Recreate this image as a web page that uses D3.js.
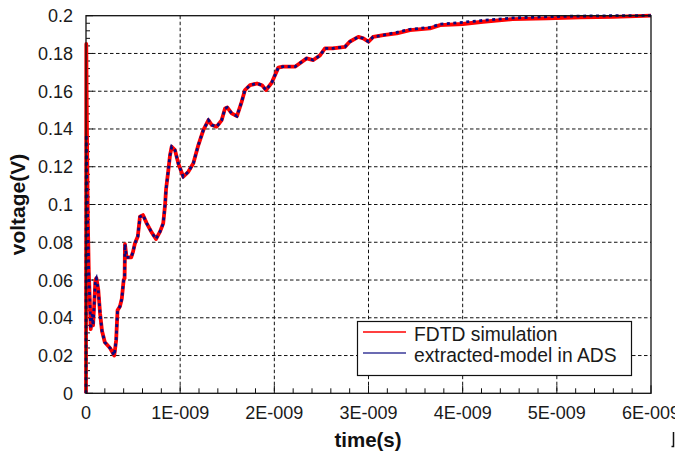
<!DOCTYPE html>
<html>
<head>
<meta charset="utf-8">
<script src="https://cdn.jsdelivr.net/npm/d3@7"></script>
<style>
  body { margin: 0; background: #fff; }
  svg { display: block; font-family: "Liberation Sans", Arial, sans-serif; }
</style>
</head>
<body>
<svg id="chart" width="675" height="457"></svg>
<script>
// time axis in ns
const timeNs = [0, 0.003, 0.01, 0.02, 0.03, 0.04, 0.05, 0.065, 0.075, 0.085, 0.1, 0.11, 0.13, 0.15, 0.17,
    0.2, 0.255, 0.3, 0.32, 0.335, 0.36, 0.38, 0.4, 0.41, 0.414, 0.43, 0.48, 0.5, 0.52, 0.55, 0.573,
    0.605, 0.645, 0.7, 0.743, 0.786, 0.82, 0.84, 0.85, 0.874, 0.892, 0.91, 0.945, 0.98, 1.033, 1.086,
    1.14, 1.193, 1.246, 1.3, 1.335, 1.388, 1.441, 1.476, 1.5, 1.547, 1.603, 1.653, 1.688, 1.742, 1.816,
    1.869, 1.911, 1.972, 2.042, 2.09, 2.22, 2.343, 2.414, 2.485, 2.538, 2.62, 2.75, 2.8, 2.892, 2.945,
    3.0, 3.05, 3.157, 3.3, 3.44, 3.653, 3.76, 4.0, 4.216, 4.53, 4.9, 5.25, 5.6, 6.0];

const fdtdV = [0, 0.185, 0.14, 0.09, 0.064, 0.05, 0.034, 0.042, 0.036, 0.045, 0.06, 0.061, 0.055, 0.042,
    0.033, 0.027, 0.024, 0.020, 0.028, 0.044, 0.046, 0.05, 0.06, 0.061, 0.079, 0.072, 0.072, 0.075,
    0.0795, 0.083, 0.0935, 0.0944, 0.090, 0.085, 0.0817, 0.0856, 0.090, 0.100, 0.108, 0.118, 0.126,
    0.1306, 0.1288, 0.1218, 0.1147, 0.1173, 0.1218, 0.1315, 0.1394, 0.1447, 0.1421, 0.1412, 0.1447,
    0.1509, 0.1514, 0.1483, 0.1468, 0.1544, 0.1606, 0.1632, 0.1641, 0.1632, 0.1606, 0.1645, 0.1725,
    0.173, 0.173, 0.1774, 0.1765, 0.179, 0.1827, 0.1827, 0.1835, 0.1862, 0.1888, 0.188, 0.1862, 0.1888,
    0.1897, 0.1906, 0.1924, 0.1933, 0.195, 0.1956, 0.1968, 0.1982, 0.1986, 0.1991, 0.1994, 0.2];

const adsV = [0, 0.137, 0.11, 0.085, 0.062, 0.05, 0.034, 0.042, 0.036, 0.045, 0.06, 0.061, 0.055, 0.042,
    0.033, 0.027, 0.024, 0.020, 0.028, 0.044, 0.046, 0.05, 0.06, 0.061, 0.079, 0.072, 0.072, 0.075,
    0.0795, 0.083, 0.0935, 0.0944, 0.090, 0.085, 0.0817, 0.0856, 0.090, 0.100, 0.108, 0.118, 0.126,
    0.1306, 0.1288, 0.1218, 0.1147, 0.1173, 0.1218, 0.1315, 0.1394, 0.1447, 0.1421, 0.1412, 0.1447,
    0.1509, 0.1514, 0.1483, 0.1468, 0.1544, 0.1606, 0.1632, 0.1641, 0.1632, 0.1606, 0.1645, 0.1725,
    0.173, 0.173, 0.1774, 0.1765, 0.179, 0.1827, 0.1827, 0.1835, 0.1862, 0.1888, 0.188, 0.1862, 0.1888,
    0.1897, 0.1912, 0.1928, 0.1938, 0.1955, 0.1965, 0.1975, 0.1988, 0.1995, 0.1998, 0.2, 0.2];

const xTicks = [0, 1, 2, 3, 4, 5, 6];
const xTickLabels = ['0', '1E-009', '2E-009', '3E-009', '4E-009', '5E-009', '6E-009'];
const yTicks = [0, 0.02, 0.04, 0.06, 0.08, 0.1, 0.12, 0.14, 0.16, 0.18, 0.2];
const yTickLabels = ['0', '0.02', '0.04', '0.06', '0.08', '0.1', '0.12', '0.14', '0.16', '0.18', '0.2'];
const seriesNames = ['FDTD simulation', 'extracted-model in ADS'];

const plotLeft = 86, plotRight = 651, plotTop = 15.7, plotBottom = 393.3;

const svg = d3.select('#chart');

const x = d3.scaleLinear().domain([0, 6]).range([plotLeft, plotRight]);
const y = d3.scaleLinear().domain([0, 0.2]).range([plotBottom, plotTop]);

// grid
const grid = svg.append('g')
    .attr('stroke', '#111')
    .attr('stroke-width', 1)
    .attr('stroke-dasharray', '3.5,2.5');

grid.selectAll('.gx')
    .data(xTicks.slice(1, -1))
    .enter().append('line')
    .attr('x1', d => x(d)).attr('x2', d => x(d))
    .attr('y1', plotTop).attr('y2', plotBottom);

grid.selectAll('.gy')
    .data(yTicks.slice(1, -1))
    .enter().append('line')
    .attr('x1', plotLeft).attr('x2', plotRight)
    .attr('y1', d => y(d)).attr('y2', d => y(d));

// minor / major ticks (inward)
const ticks = svg.append('g').attr('stroke', '#111').attr('stroke-width', 1);
const xMinor = d3.range(0, 6.0001, 0.2);
ticks.selectAll('.tx')
    .data(xMinor)
    .enter().append('line')
    .attr('x1', d => x(d)).attr('x2', d => x(d))
    .attr('y1', plotBottom)
    .attr('y2', (d, i) => plotBottom - (i % 5 === 0 ? 8 : 5));

const yMinor = d3.range(0, 0.2001, 0.004);
ticks.selectAll('.ty')
    .data(yMinor)
    .enter().append('line')
    .attr('x1', plotLeft)
    .attr('x2', (d, i) => plotLeft + (i % 5 === 0 ? 7 : 4))
    .attr('y1', d => y(d)).attr('y2', d => y(d));

// curves
const line = d3.line()
    .x((d, i) => x(timeNs[i]))
    .y(d => y(d));

svg.append('path')
    .datum(fdtdV)
    .attr('d', line)
    .attr('fill', 'none')
    .attr('stroke', '#ff0000')
    .attr('stroke-width', 3.8)
    .attr('stroke-linejoin', 'round');

svg.append('path')
    .datum(adsV)
    .attr('d', line)
    .attr('fill', 'none')
    .attr('stroke', '#0a0a80')
    .attr('stroke-width', 2.8)
    .attr('stroke-dasharray', '3,3.5');

// frame
svg.append('rect')
    .attr('x', plotLeft).attr('y', plotTop)
    .attr('width', plotRight - plotLeft).attr('height', plotBottom - plotTop)
    .attr('fill', 'none')
    .attr('stroke', '#111')
    .attr('stroke-width', 1.3);

// tick labels
svg.append('g').selectAll('text')
    .data(xTicks)
    .enter().append('text')
    .attr('x', d => x(d))
    .attr('y', 419)
    .attr('text-anchor', 'middle')
    .attr('font-size', 18)
    .attr('fill', '#1a1a1a')
    .text((d, i) => xTickLabels[i]);

svg.append('g').selectAll('text')
    .data(yTicks)
    .enter().append('text')
    .attr('x', 73)
    .attr('y', d => y(d) + 6.5)
    .attr('text-anchor', 'end')
    .attr('font-size', 18)
    .attr('fill', '#1a1a1a')
    .text((d, i) => yTickLabels[i]);

// axis titles
svg.append('text')
    .attr('x', 368)
    .attr('y', 446.7)
    .attr('text-anchor', 'middle')
    .attr('font-size', 20.5)
    .attr('font-weight', 'bold')
    .attr('fill', '#111')
    .text('time(s)');

svg.append('text')
    .attr('transform', `translate(25,${(plotTop + plotBottom) / 2}) rotate(-90)`)
    .attr('text-anchor', 'middle')
    .attr('font-size', 21)
    .attr('font-weight', 'bold')
    .attr('fill', '#111')
    .text('voltage(V)');

// legend
const legend = svg.append('g');
legend.append('rect')
    .attr('x', 357.5).attr('y', 321.5)
    .attr('width', 274).attr('height', 54)
    .attr('fill', '#fff')
    .attr('stroke', '#111')
    .attr('stroke-width', 1.2);

const legendColors = ['#ff0000', '#3a3a98'];
seriesNames.forEach((name, i) => {
    const ly = 332 + i * 21;
    legend.append('line')
        .attr('x1', 363).attr('x2', 406)
        .attr('y1', ly).attr('y2', ly)
        .attr('stroke', legendColors[i])
        .attr('stroke-width', 1.3);
    legend.append('text')
        .attr('x', 414)
        .attr('y', ly + 8.5)
        .attr('font-size', 19.3)
        .attr('fill', '#1a1a1a')
        .text(name);
});

// stray mark at bottom-right edge
svg.append('path')
    .attr('d', 'M673.5,432V446.5H671.5')
    .attr('fill', 'none')
    .attr('stroke', '#111')
    .attr('stroke-width', 1.5);
</script>
</body>
</html>
